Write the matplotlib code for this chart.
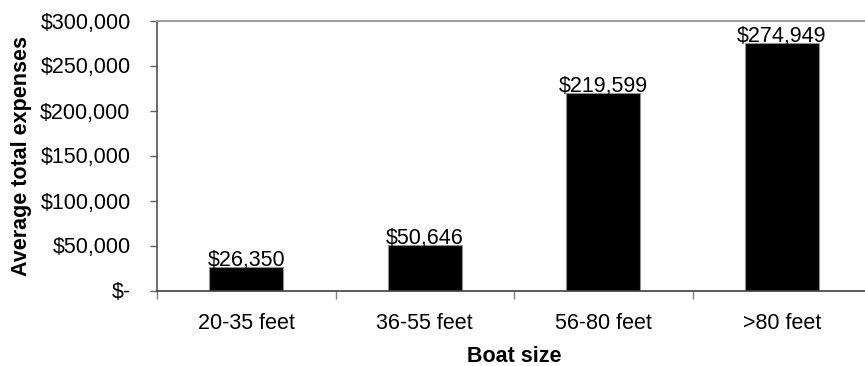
import matplotlib
matplotlib.use("Agg")
import matplotlib.pyplot as plt
from matplotlib.ticker import FixedLocator, FuncFormatter
import numpy as np

categories = ["20-35 feet", "36-55 feet", "56-80 feet", ">80 feet"]
expenses = [26350, 50646, 219599, 274949]
y_ticks = [0, 50000, 100000, 150000, 200000, 250000, 300000]

plt.rcParams["font.family"] = ["Liberation Sans", "DejaVu Sans"]

fig = plt.figure(figsize=(8.65, 3.66), dpi=100)
ax = fig.add_axes([157 / 865, 1 - 290.5 / 366, 714 / 865, 270 / 366])

x = np.arange(len(categories))
ax.bar(x, expenses, width=0.415, color="black", edgecolor="#909090", linewidth=0.8)

for xi, v in zip(x, expenses):
    ax.text(xi, v + 1200, f"${v:,}", ha="center", va="baseline", fontsize=15.5, color="black")

ax.set_xlim(-0.5, len(categories) - 0.5)
ax.set_ylim(0, 300000)
ax.set_yticks(y_ticks)
ax.yaxis.set_major_formatter(FuncFormatter(lambda v, p: "$-" if v == 0 else f"${int(v):,}"))
ax.set_xticks(x)
ax.set_xticklabels(categories)
ax.xaxis.set_minor_locator(FixedLocator(np.arange(-0.5, len(categories), 1.0)))

ax.tick_params(axis="y", direction="out", length=5, width=1, color="#606060", labelsize=15.5, pad=14)
ax.tick_params(axis="x", which="major", length=0, labelsize=15.5, pad=16)
ax.tick_params(axis="x", which="minor", direction="out", length=6, width=1, color="#808080")

ax.spines["top"].set_color("#a0a0a0")
ax.spines["top"].set_linewidth(1.5)
ax.spines["left"].set_color("#505050")
ax.spines["left"].set_linewidth(1.2)
ax.spines["bottom"].set_color("#404040")
ax.spines["bottom"].set_linewidth(1.2)
ax.spines["right"].set_visible(False)

ax.set_xlabel("Boat size", fontsize=15.5, fontweight="bold", labelpad=9)
ax.set_ylabel("Average total expenses", fontsize=15.5, fontweight="bold", labelpad=6)

fig.savefig("out.png", dpi=100)
